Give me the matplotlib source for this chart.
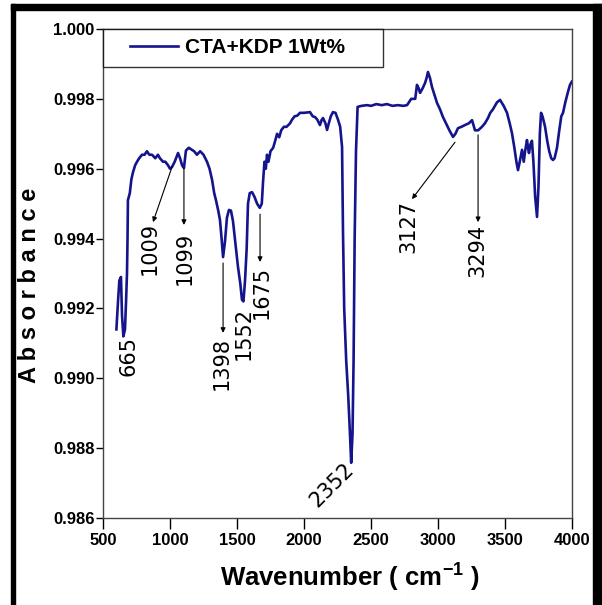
"""
FTIR 吸收谱 (CTA+KDP 1Wt%) 复现
"""

import matplotlib
matplotlib.use('Agg')
import matplotlib.pyplot as plt
from matplotlib.patches import Rectangle
from matplotlib.legend_handler import HandlerLine2D

plt.rcParams['font.family'] = ['Liberation Sans', 'DejaVu Sans']
plt.rcParams['mathtext.default'] = 'regular'

# 曲线数据
wavenumber = [
    600, 612, 622, 634, 642, 652, 664, 672, 679, 683, 686, 700, 712, 724, 740,
    754, 770, 791, 810, 828, 846, 866, 890, 910, 925, 948, 965, 985, 1000, 1015,
    1035, 1060, 1075, 1090, 1104, 1119, 1140, 1160, 1180, 1201, 1225, 1250, 1276,
    1295, 1313, 1330, 1343, 1360, 1373, 1385, 1396, 1410, 1425, 1440, 1455, 1470,
    1490, 1507, 1525, 1537, 1548, 1560, 1572, 1582, 1595, 1612, 1630, 1650, 1670,
    1685, 1694, 1705, 1715, 1724, 1735, 1750, 1770, 1785, 1799, 1815, 1830, 1850,
    1870, 1896, 1910, 1930, 1950, 1970, 2000, 2045, 2065, 2082, 2100, 2119, 2132,
    2142, 2160, 2172, 2185, 2200, 2216, 2235, 2254, 2270, 2284, 2291, 2300, 2315,
    2330, 2342, 2352, 2362, 2370, 2378, 2388, 2400, 2430, 2470, 2500, 2540, 2580,
    2619, 2660, 2700, 2740, 2769, 2800, 2830, 2843, 2856, 2866, 2885, 2903, 2915,
    2925, 2940, 2955, 2975, 2993, 3015, 3037, 3060, 3085, 3112, 3130, 3149, 3175,
    3201, 3230, 3254, 3276, 3300, 3328, 3350, 3373, 3390, 3410, 3440, 3463, 3490,
    3515, 3535, 3552, 3570, 3585, 3597, 3610, 3627, 3640, 3650, 3664, 3672, 3679,
    3690, 3701, 3712, 3725, 3739, 3750, 3760, 3769, 3780, 3799, 3815, 3830, 3845,
    3858, 3870, 3888, 3905, 3920, 3933, 3950, 3970, 3985, 3998,
]
absorbance = [
    0.9914, 0.9922, 0.9928, 0.9929, 0.9918, 0.9912, 0.9914, 0.9922, 0.9930,
    0.9940, 0.9951, 0.9953, 0.9957, 0.9959, 0.9961, 0.9962, 0.9963, 0.9964,
    0.9964, 0.9965, 0.9964, 0.9964, 0.9963, 0.9964, 0.9963, 0.9962, 0.9962,
    0.9961, 0.9960, 0.99605, 0.9962, 0.99645, 0.9963, 0.9961, 0.99602, 0.99652,
    0.9966, 0.99655, 0.9965, 0.9964, 0.9965, 0.9964, 0.9962, 0.9960, 0.9957,
    0.9953, 0.9951, 0.9948, 0.99453, 0.9940, 0.99347, 0.9939, 0.9946, 0.99482,
    0.9948, 0.9945, 0.9938, 0.9932, 0.9927, 0.99225, 0.9922, 0.9928, 0.9937,
    0.9950, 0.9953, 0.99533, 0.9952, 0.9950, 0.99488, 0.9950, 0.9956, 0.9962,
    0.9960, 0.9964, 0.9962, 0.9965, 0.9966, 0.9968, 0.9970, 0.9969, 0.9971,
    0.9972, 0.9972, 0.9973, 0.9974, 0.9975, 0.99752, 0.9976, 0.9976, 0.99762,
    0.9975, 0.99748, 0.9974, 0.99725, 0.9974, 0.99745, 0.9973, 0.99711, 0.9973,
    0.9975, 0.99762, 0.9976, 0.9974, 0.9972, 0.99662, 0.9942, 0.9920, 0.9905,
    0.9895, 0.9885, 0.98758, 0.9884, 0.9905, 0.9940, 0.9965, 0.99777, 0.9978,
    0.99782, 0.9978, 0.99785, 0.99782, 0.99785, 0.9978, 0.99782, 0.9978,
    0.99782, 0.9980, 0.9980, 0.9984, 0.9983, 0.99817, 0.9983, 0.99845, 0.9986,
    0.99877, 0.9986, 0.99834, 0.9981, 0.99788, 0.9977, 0.99748, 0.9973, 0.9971,
    0.99691, 0.9970, 0.99716, 0.9972, 0.99725, 0.9973, 0.99739, 0.9971, 0.9971,
    0.9972, 0.9973, 0.99745, 0.9976, 0.9977, 0.9979, 0.99797, 0.9978, 0.9976,
    0.9973, 0.99702, 0.9966, 0.9962, 0.99596, 0.9962, 0.99654, 0.9962, 0.9965,
    0.99682, 0.9966, 0.99645, 0.9967, 0.9968, 0.9962, 0.9952, 0.99462, 0.9955,
    0.9970, 0.9976, 0.9975, 0.9972, 0.9968, 0.9965, 0.9963, 0.99625, 0.9963,
    0.9966, 0.9971, 0.9975, 0.9976, 0.9979, 0.9982, 0.9984, 0.99849,
]

# 峰位标注: 文字, 文字位置, 箭头起点/终点 (None 表示无箭头)
peak_labels = ['665', '1009', '1099', '1398', '1552', '1675', '3127', '3294']
label_xy = [(687, 0.99121), (851, 0.99447), (1112, 0.99419), (1388, 0.99118),
            (1552, 0.99204), (1687, 0.99321), (2776, 0.99510), (3291, 0.99442)]
arrow_from = [None, (1015, 0.99605), (1104, 0.99602), (1396, 0.99330),
              None, (1672, 0.99470), (3127, 0.99676), (3299, 0.99697)]
arrow_to = [None, (873, 0.99447), (1104, 0.99439), (1396, 0.99130),
            None, (1672, 0.99333), (2806, 0.99513), (3299, 0.99447)]

x_ticks = [500, 1000, 1500, 2000, 2500, 3000, 3500, 4000]
y_ticks = [0.986, 0.988, 0.990, 0.992, 0.994, 0.996, 0.998, 1.000]

fig = plt.figure(figsize=(6.02, 6.05), dpi=100)
ax = fig.add_axes([103 / 602, 1 - 518 / 605, 469 / 602, 489 / 605])

line, = ax.plot(wavenumber, absorbance, color='#14148c', linewidth=1.9,
                label='CTA+KDP 1Wt%')

ax.set_xlim(500, 4000)
ax.set_ylim(0.986, 1.000)
ax.set_xticks(x_ticks)
ax.set_yticks(y_ticks)
ax.set_yticklabels([f'{v:.3f}' for v in y_ticks])

tick_font = dict(family=['Liberation Sans Narrow', 'Liberation Sans'],
                 weight='bold', size=12)
for lab in ax.get_xticklabels() + ax.get_yticklabels():
    lab.set_fontproperties(tick_font)
ax.tick_params(axis='x', direction='out', length=8, width=1, pad=3)
ax.tick_params(axis='y', direction='out', length=5, width=1, pad=1)
for sp in ax.spines.values():
    sp.set_color('#444444')
    sp.set_linewidth(1)

ax.set_ylabel('A b s o r b a n c e', fontsize=17, fontweight='bold')
ax.yaxis.set_label_coords(-0.156, 0.476)
ax.yaxis.label.set_va('center')
ax.set_xlabel('Wavenumber ( cm$^{-1}$ )', fontsize=18.5, fontweight='bold')
ax.xaxis.set_label_coords(0.527, -0.1227)
ax.xaxis.label.set_va('center')

# 峰位标注
for txt, (tx, ty), a0, a1 in zip(peak_labels, label_xy, arrow_from, arrow_to):
    ax.text(tx, ty, txt, rotation=90, ha='center', va='top',
            fontsize=15, family='DejaVu Sans')
    if a0 is not None:
        ax.annotate('', xy=a1, xytext=a0,
                    arrowprops=dict(arrowstyle='-|>', color='black', lw=0.8,
                                    mutation_scale=7, shrinkA=0, shrinkB=0))
ax.text(2209, 0.98695, '2352', rotation=45, ha='center', va='center',
        fontsize=15, family='DejaVu Sans')

leg = ax.legend(loc='upper left', bbox_to_anchor=(0, 1 - 38 / 489, 280 / 469, 38 / 489),
                mode='expand', borderaxespad=0, fancybox=False,
                prop=dict(weight='bold', size=15), handlelength=3.15,
                handletextpad=0.34, borderpad=0.45,
                handler_map={line: HandlerLine2D(xpad=0.85)})
leg.get_frame().set_edgecolor('black')
leg.get_frame().set_linewidth(1)

# 外框
fig.patches.append(Rectangle((11 / 602, -0.01), 4 / 602, 1 - 4 / 605 + 0.01,
                             transform=fig.transFigure, color='black'))
fig.patches.append(Rectangle((11 / 602, 1 - 10 / 605), 591 / 602, 6 / 605,
                             transform=fig.transFigure, color='black'))
fig.patches.append(Rectangle((593 / 602, -0.01), 9 / 602, 1 - 4 / 605 + 0.01,
                             transform=fig.transFigure, color='black'))

fig.savefig('out.png', dpi=100, facecolor='white')
